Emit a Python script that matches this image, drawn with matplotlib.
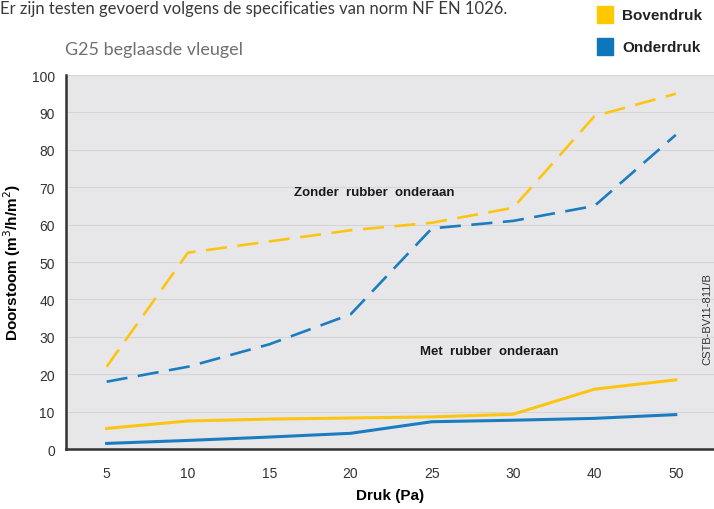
import matplotlib
import matplotlib.pyplot as plt
import numpy as np

matplotlib.use("Agg")

# Druk (Pa) categories, equally spaced on the axis
DRUK = ["5", "10", "15", "20", "25", "30", "40", "50"]

# Doorstoom (m3/h/m2)
ZONDER_BOVEN = [22, 52.5, 55.5, 58.5, 60.5, 64.5, 89, 95]
ZONDER_ONDER = [18, 22, 28, 36, 59, 61, 65, 84]
MET_BOVEN = [5.5, 7.5, 8.0, 8.3, 8.6, 9.3, 16, 18.5]
MET_ONDER = [1.5, 2.3, 3.2, 4.2, 7.3, 7.7, 8.2, 9.2]

YTICKS = list(range(0, 101, 10))

YELLOW = "#FDC513"
BLUE = "#1B7DC0"
NARROW = ["Liberation Sans Narrow", "Liberation Sans", "DejaVu Sans"]
LIGHT = ["Lato", "DejaVu Sans"]

plt.rcParams["font.family"] = ["Liberation Sans", "DejaVu Sans"]

fig = plt.figure(figsize=(7.14, 5.10), dpi=100)
ax = fig.add_axes([0.0924, 0.1176, 0.9076, 0.7333])
ax.set_facecolor("#e7e7e9")

x = np.arange(len(DRUK))
ax.plot(x, ZONDER_BOVEN, color=YELLOW, lw=1.9, dashes=(8, 4), zorder=3)
ax.plot(x, ZONDER_ONDER, color=BLUE, lw=1.9, dashes=(8, 4), zorder=3)
ax.plot(x, MET_BOVEN, color=YELLOW, lw=2.2, zorder=3)
ax.plot(x, MET_ONDER, color=BLUE, lw=2.2, zorder=3)

ax.set_xlim(-0.5, 7.47)
ax.set_ylim(0, 100)
ax.set_xticks(x)
ax.set_xticklabels(DRUK)
ax.set_yticks(YTICKS)
ax.tick_params(length=0, labelsize=10, colors="#333333", pad=8)
ax.tick_params(axis="x", pad=12)
ax.grid(axis="y", color="#d6d6d8", lw=0.8, zorder=1)
ax.set_axisbelow(True)
for side in ("top", "right"):
    ax.spines[side].set_visible(False)
for side in ("left", "bottom"):
    ax.spines[side].set_color("#333333")
    ax.spines[side].set_linewidth(1.8)

ax.set_ylabel("Doorstoom (m$^3$/h/m$^2$)", fontsize=11, fontweight="bold",
              family=NARROW, labelpad=6)
ax.set_xlabel("Druk (Pa)", fontsize=11, fontweight="bold", family=NARROW, labelpad=6)

ax.text(2.3, 68, "Zonder  rubber  onderaan", fontsize=9.5, fontweight="bold",
        family=NARROW, color="#1a1a1a")
ax.text(3.85, 25.5, "Met  rubber  onderaan", fontsize=9.5, fontweight="bold",
        family=NARROW, color="#1a1a1a")
ax.text(7.39, 35, "CSTB-BV11-811/B", fontsize=8, rotation=90, ha="center",
        va="center", color="#333333")

fig.text(0.0, 0.999, "Er zijn testen gevoerd volgens de specificaties van norm NF EN 1026.",
         fontsize=12, family=LIGHT, fontweight="normal",
         color="#3a3a3a", ha="left", va="top")
fig.text(0.091, 0.902, "G25 beglaasde vleugel", fontsize=13,
         family=LIGHT, fontweight="normal", color="#707070",
         ha="left", va="center")

# legend squares
fig.patches.append(plt.Rectangle((0.836, 0.952), 0.022, 0.034, color="#FFC800",
                                 transform=fig.transFigure, figure=fig))
fig.patches.append(plt.Rectangle((0.836, 0.89), 0.022, 0.034, color="#0E76BC",
                                 transform=fig.transFigure, figure=fig))
fig.text(0.871, 0.968, "Bovendruk", fontsize=11, fontweight="bold",
         family=NARROW, color="#222222", va="center")
fig.text(0.871, 0.906, "Onderdruk", fontsize=11, fontweight="bold",
         family=NARROW, color="#222222", va="center")

fig.savefig("out.png", dpi=100)
